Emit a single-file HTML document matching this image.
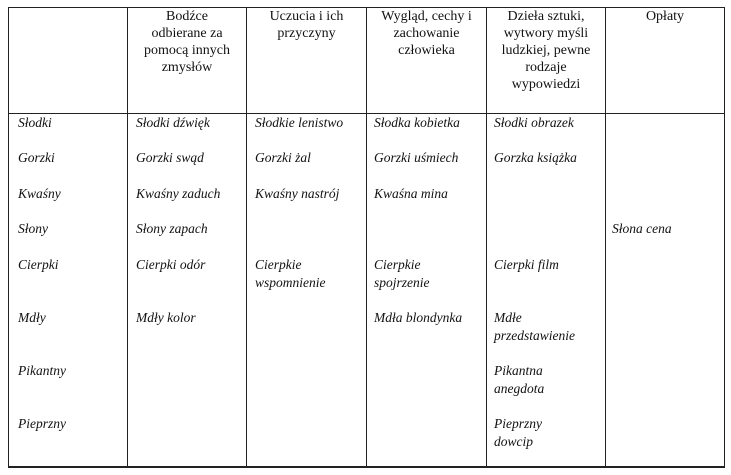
<!DOCTYPE html>
<html><head><meta charset="utf-8"><style>
body{margin:0;width:731px;height:475px;background:#fff;position:relative;overflow:hidden;font-family:"Liberation Serif",serif;color:#111}
.l{position:absolute;background:#222}
.h{position:absolute;text-align:center;font-size:14px;line-height:17px;top:8px}
.t{position:absolute;font-size:13.5px;font-style:italic;line-height:17.5px;white-space:nowrap}
</style></head><body>
<div class="l" style="left:8px;top:7px;width:717px;height:1px"></div>
<div class="l" style="left:8px;top:113px;width:717px;height:1px"></div>
<div class="l" style="left:8px;top:466px;width:717px;height:2px"></div>
<div class="l" style="left:8px;top:7px;width:1px;height:461px"></div>
<div class="l" style="left:127px;top:7px;width:1px;height:461px"></div>
<div class="l" style="left:246px;top:7px;width:1px;height:461px"></div>
<div class="l" style="left:366px;top:7px;width:1px;height:461px"></div>
<div class="l" style="left:486px;top:7px;width:1px;height:461px"></div>
<div class="l" style="left:605px;top:7px;width:1px;height:461px"></div>
<div class="l" style="left:724px;top:7px;width:1px;height:461px"></div>

<div class="h" style="left:128px;width:118px">Bodźce<br>odbierane za<br>pomocą innych<br>zmysłów</div>
<div class="h" style="left:247px;width:119px">Uczucia i ich<br>przyczyny</div>
<div class="h" style="left:367px;width:119px">Wygląd, cechy i<br>zachowanie<br>człowieka</div>
<div class="h" style="left:487px;width:118px">Dzieła sztuki,<br>wytwory myśli<br>ludzkiej, pewne<br>rodzaje<br>wypowiedzi</div>
<div class="h" style="left:606px;width:118px">Opłaty</div>

<div class="t" style="left:18px;top:114px">Słodki</div>
<div class="t" style="left:18px;top:149px">Gorzki</div>
<div class="t" style="left:18px;top:185px">Kwaśny</div>
<div class="t" style="left:18px;top:220px">Słony</div>
<div class="t" style="left:18px;top:256px">Cierpki</div>
<div class="t" style="left:18px;top:309px">Mdły</div>
<div class="t" style="left:18px;top:362px">Pikantny</div>
<div class="t" style="left:18px;top:415px">Pieprzny</div>

<div class="t" style="left:136px;top:114px">Słodki dźwięk</div>
<div class="t" style="left:136px;top:149px">Gorzki swąd</div>
<div class="t" style="left:136px;top:185px">Kwaśny zaduch</div>
<div class="t" style="left:136px;top:220px">Słony zapach</div>
<div class="t" style="left:136px;top:256px">Cierpki odór</div>
<div class="t" style="left:136px;top:309px">Mdły kolor</div>

<div class="t" style="left:255px;top:114px">Słodkie lenistwo</div>
<div class="t" style="left:255px;top:149px">Gorzki żal</div>
<div class="t" style="left:255px;top:185px">Kwaśny nastrój</div>
<div class="t" style="left:255px;top:256px">Cierpkie<br>wspomnienie</div>

<div class="t" style="left:374px;top:114px">Słodka kobietka</div>
<div class="t" style="left:374px;top:149px">Gorzki uśmiech</div>
<div class="t" style="left:374px;top:185px">Kwaśna mina</div>
<div class="t" style="left:374px;top:256px">Cierpkie<br>spojrzenie</div>
<div class="t" style="left:374px;top:309px">Mdła blondynka</div>

<div class="t" style="left:494px;top:114px">Słodki obrazek</div>
<div class="t" style="left:494px;top:149px">Gorzka książka</div>
<div class="t" style="left:494px;top:256px">Cierpki film</div>
<div class="t" style="left:494px;top:309px">Mdłe<br>przedstawienie</div>
<div class="t" style="left:494px;top:362px">Pikantna<br>anegdota</div>
<div class="t" style="left:494px;top:415px">Pieprzny<br>dowcip</div>

<div class="t" style="left:612px;top:220px">Słona cena</div>
</body></html>
